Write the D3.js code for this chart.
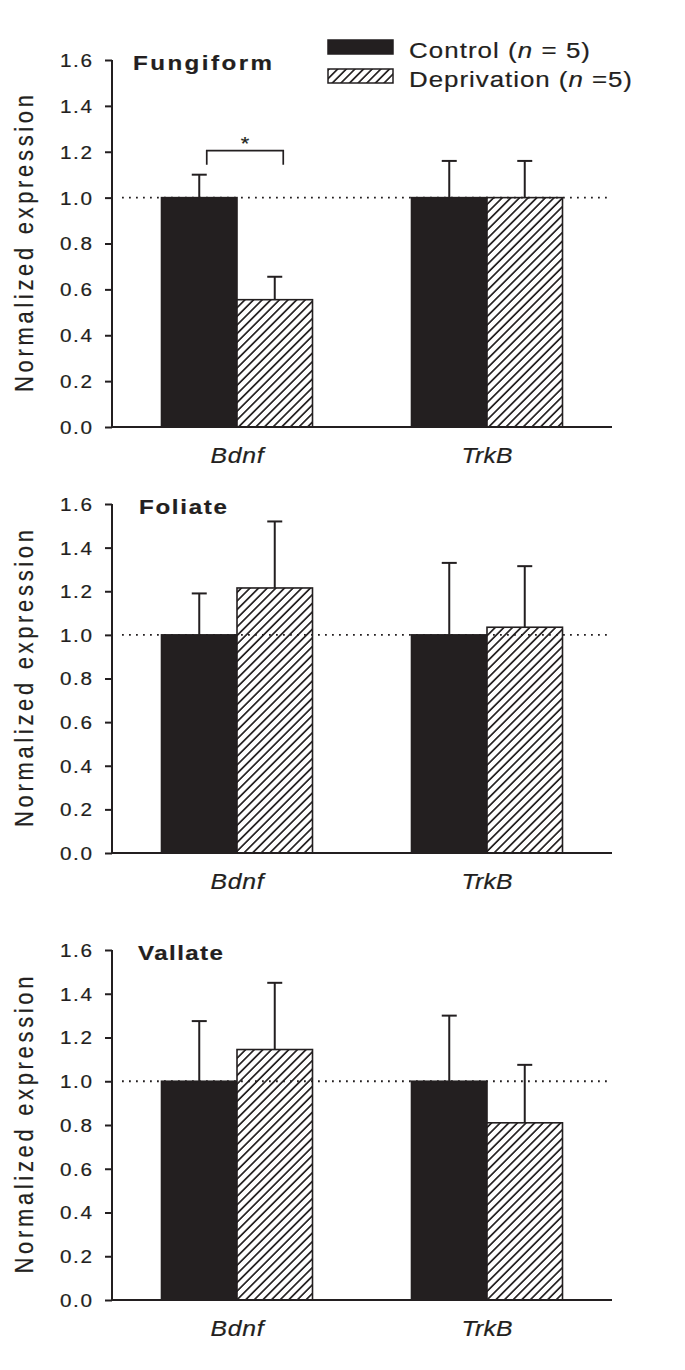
<!DOCTYPE html>
<html>
<head>
<meta charset="utf-8">
<script src="https://cdn.jsdelivr.net/npm/d3@7"></script>
<style>
  html, body { margin: 0; padding: 0; background: #fff; }
  svg { display: block; }
  text { font-family: "Liberation Sans", Arial, sans-serif; fill: #231f20; stroke: #231f20; stroke-width: 0.2px; }
</style>
</head>
<body>
<svg id="chart" width="685" height="1370"></svg>
<script>
// ---- data ----
const categories = ["Bdnf", "TrkB"];
const groups = ["Control", "Deprivation"];
const panelNames = ["Fungiform", "Foliate", "Vallate"];
const controlMeans = [[1.0, 1.0], [1.0, 1.0], [1.0, 1.0]];
const controlErr   = [[0.10, 0.16], [0.19, 0.33], [0.275, 0.30]];
const deprivMeans  = [[0.555, 1.0], [1.215, 1.035], [1.145, 0.81]];
const deprivErr    = [[0.10, 0.16], [0.305, 0.28], [0.305, 0.265]];
const yTicks = [0, 0.2, 0.4, 0.6, 0.8, 1.0, 1.2, 1.4, 1.6];
const legendLabels = ["Control (n = 5)", "Deprivation (n =5)"];
const yLabel = "Normalized expression";
const referenceLevel = 1.0;
const sigPairs = [{panel: 0, category: "Bdnf", label: "*"}];

// ---- layout ----
const S = 1.15; // horizontal stretch of the original figure's lettering
const panelBoxes = [
  {top: 60, bottom: 427, titleX: 133, titleLen: 139},
  {top: 504, bottom: 853, titleX: 139, titleLen: 88},
  {top: 950, bottom: 1300, titleX: 138, titleLen: 85}
];
const xLeft = 112, xRight = 612;
const ink = "#231f20";

const svg = d3.select("#chart");
const defs = svg.append("defs");
const pat = defs.append("pattern")
  .attr("id", "hatch")
  .attr("patternUnits", "userSpaceOnUse")
  .attr("width", 6.1).attr("height", 6.1)
  .attr("patternTransform", "rotate(45)");
pat.append("rect").attr("width", 6.1).attr("height", 6.1).attr("fill", "#fff");
pat.append("line").attr("x1", 0.9).attr("y1", 0).attr("x2", 0.9).attr("y2", 6.1)
  .attr("stroke", ink).attr("stroke-width", 1.7);

const x0 = d3.scaleBand().domain(categories).range([xLeft, xRight])
  .paddingInner(0.396).paddingOuter(0.198);
const x1 = d3.scaleBand().domain(groups).range([0, x0.bandwidth()]);

panelBoxes.forEach((box, pi) => {
  const g = svg.append("g");
  const y = d3.scaleLinear().domain([0, 1.6]).range([box.bottom, box.top]);

  const rows = [];
  categories.forEach((c, ci) => {
    rows.push({cat: c, grp: "Control", v: controlMeans[pi][ci], e: controlErr[pi][ci]});
    rows.push({cat: c, grp: "Deprivation", v: deprivMeans[pi][ci], e: deprivErr[pi][ci]});
  });

  // error bars (upward only)
  const eb = g.append("g").attr("stroke", ink).attr("stroke-width", 2);
  rows.forEach(d => {
    const cx = x0(d.cat) + x1(d.grp) + x1.bandwidth() / 2;
    eb.append("line").attr("x1", cx).attr("x2", cx).attr("y1", y(d.v)).attr("y2", y(d.v + d.e));
    eb.append("line").attr("x1", cx - 7.5).attr("x2", cx + 7.5).attr("y1", y(d.v + d.e)).attr("y2", y(d.v + d.e));
  });

  // bars
  g.append("g").selectAll("rect").data(rows).join("rect")
    .attr("x", d => x0(d.cat) + x1(d.grp))
    .attr("y", d => y(d.v))
    .attr("width", x1.bandwidth())
    .attr("height", d => y(0) - y(d.v))
    .attr("fill", d => d.grp === "Control" ? ink : "url(#hatch)")
    .attr("stroke", ink).attr("stroke-width", 1.6);

  // reference dotted line
  g.append("line")
    .attr("x1", 122).attr("x2", 609)
    .attr("y1", y(referenceLevel)).attr("y2", y(referenceLevel))
    .attr("stroke", ink).attr("stroke-width", 1.8)
    .attr("stroke-dasharray", "1.8,5.2");

  // y axis
  const yAxis = g.append("g").attr("transform", `translate(${xLeft},0)`)
    .call(d3.axisLeft(y).tickValues(yTicks).tickFormat(d3.format(".1f")).tickSizeOuter(0).tickSize(7).tickPadding(13));
  yAxis.select(".domain").attr("stroke", ink).attr("stroke-width", 2)
    .attr("d", `M0,${y(1.6)}V${y(0)}`);
  yAxis.selectAll(".tick line").attr("stroke", ink).attr("stroke-width", 2);
  yAxis.selectAll(".tick text")
    .attr("font-size", 18).attr("fill", ink)
    .attr("x", 0).attr("dy", "0.36em")
    .attr("transform", `translate(-20,0) scale(${S},1)`)
    .attr("textLength", 32 / S).attr("lengthAdjust", "spacing");

  // x axis
  const xAxis = g.append("g").attr("transform", `translate(0,${y(0)})`)
    .call(d3.axisBottom(x0).tickSize(0).tickPadding(0).tickSizeOuter(0));
  xAxis.select(".domain").attr("stroke", ink).attr("stroke-width", 2)
    .attr("d", `M${xLeft - 1},0H${xRight}`);
  xAxis.selectAll(".tick text")
    .attr("font-size", 21.5).attr("font-style", "italic").attr("fill", ink)
    .attr("dy", null).attr("y", 0)
    .attr("transform", `translate(0,36) scale(${S},1)`)
    .attr("textLength", d => (d === "Bdnf" ? 53 : 51) / S).attr("lengthAdjust", "spacing");

  // title
  g.append("text")
    .attr("transform", `translate(${box.titleX},${box.top + 10}) scale(${S},1)`)
    .attr("font-size", 21).attr("font-weight", "bold")
    .attr("textLength", box.titleLen / S).attr("lengthAdjust", "spacing")
    .text(panelNames[pi]);

  // y label (rotated: glyph height runs horizontally, so stretch along text y)
  const cy = (box.top + box.bottom) / 2;
  g.append("text")
    .attr("transform", `translate(33,${cy}) rotate(-90) scale(1,1.15)`)
    .attr("text-anchor", "middle")
    .attr("font-size", 22)
    .attr("textLength", 297).attr("lengthAdjust", "spacing")
    .text(yLabel);

  // significance bracket (drawn from the right end of each error cap)
  sigPairs.filter(s => s.panel === pi).forEach(s => {
    const xa = x0(s.category) + x1("Control") + x1.bandwidth() / 2 + 7.5;
    const xb = x0(s.category) + x1("Deprivation") + x1.bandwidth() / 2 + 8.5;
    const top = d3.max(rows.filter(r => r.cat === s.category), r => r.v + r.e);
    const by = y(top) - 24;
    g.append("path")
      .attr("d", `M${xa},${by + 14}V${by}H${xb}V${by + 14}`)
      .attr("fill", "none").attr("stroke", ink).attr("stroke-width", 1.7);
    g.append("text")
      .attr("transform", `translate(${(xa + xb) / 2},${by - 0.5}) scale(${S},1)`)
      .attr("text-anchor", "middle").attr("font-size", 19)
      .text(s.label);
  });
});

// legend
const leg = svg.append("g");
const legY = [40, 69];
groups.forEach((grp, i) => {
  leg.append("rect").attr("x", 328).attr("y", legY[i]).attr("width", 65).attr("height", 14)
    .attr("fill", i === 0 ? ink : "url(#hatch)").attr("stroke", ink).attr("stroke-width", 1.5);
  const label = legendLabels[i];
  const idx = label.indexOf("(n") + 1;
  const t = leg.append("text")
    .attr("transform", `translate(409,${legY[i] + 18}) scale(${S},1)`)
    .attr("font-size", 22.5)
    .attr("textLength", (i === 0 ? 181 : 223) / S).attr("lengthAdjust", "spacing");
  t.append("tspan").text(label.slice(0, idx));
  t.append("tspan").attr("font-style", "italic").text(label.slice(idx, idx + 1));
  t.append("tspan").text(label.slice(idx + 1));
});
</script>
</body>
</html>
